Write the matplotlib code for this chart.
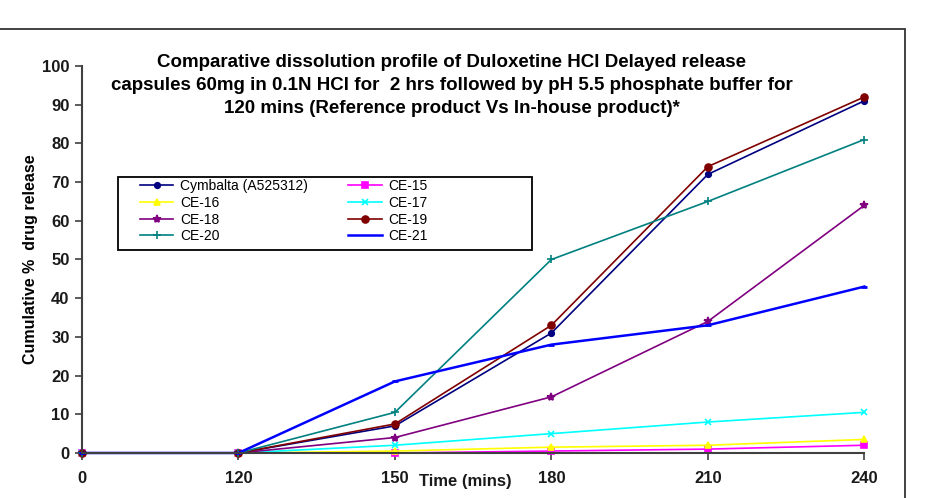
import numpy as np
import matplotlib
matplotlib.use("Agg")
import matplotlib.pyplot as plt
from matplotlib.patches import Rectangle

plt.rcParams['font.family'] = ['Liberation Sans', 'DejaVu Sans']

# time points (categorical axis)
times = ['0', '120', '150', '180', '210', '240']

cymbalta = [0, 0, 7, 31, 72, 91]
ce15 = [0, 0, 0, 0.5, 1, 2]
ce16 = [0, 0, 0.5, 1.5, 2, 3.5]
ce17 = [0, 0, 2, 5, 8, 10.5]
ce18 = [0, 0, 4, 14.5, 34, 64]
ce19 = [0, 0, 7.5, 33, 74, 92]
ce20 = [0, 0, 10.5, 50, 65, 81]
ce21 = [0, 0, 18.5, 28, 33, 43]

series = [
    ('Cymbalta (A525312)', cymbalta, '#000080', 'o', 4, 1.2),
    ('CE-15', ce15, '#FF00FF', 's', 4, 1.2),
    ('CE-16', ce16, '#FFFF00', '^', 5, 1.2),
    ('CE-17', ce17, '#00FFFF', 'x', 5, 1.2),
    ('CE-18', ce18, '#800080', '*', 6, 1.2),
    ('CE-19', ce19, '#800000', 'o', 5, 1.2),
    ('CE-20', ce20, '#008080', '+', 6, 1.2),
    ('CE-21', ce21, '#0000FF', '', 4, 1.8),
]

fig = plt.figure(figsize=(9.3, 4.98), dpi=100)
ax = fig.add_axes([0.0882, 0.0904, 0.8412, 0.7771])

x = np.arange(len(times))
handles = []
for name, vals, col, mk, ms, lw in series:
    h, = ax.plot(x, vals, color=col, marker=mk if mk else None, markersize=ms,
                 linewidth=lw, label=name, clip_on=False, markeredgewidth=1.2)
    handles.append(h)
# small dash markers for CE-21
ax.plot(x, ce21, linestyle='none', marker='_', color='#0000FF',
        markersize=5, markeredgewidth=2, clip_on=False)

ax.set_xlim(0, 5)
ax.set_ylim(0, 100)
ax.set_yticks(np.arange(0, 101, 10))
ax.set_xticks(x)
ax.set_xticklabels(times)
for sp in ['top', 'right']:
    ax.spines[sp].set_visible(False)
for sp in ['left', 'bottom']:
    ax.spines[sp].set_color('#404040')
    ax.spines[sp].set_linewidth(1.5)
ax.tick_params(axis='both', direction='out', length=5, width=1.2,
               color='#404040', labelsize=12, pad=4)
ax.tick_params(axis='x', pad=8)
for lab in ax.get_xticklabels() + ax.get_yticklabels():
    lab.set_fontweight('bold')
    lab.set_color('#1a1a1a')

ax.set_ylabel('Cumulative %  drug release', fontsize=11.5, fontweight='bold',
              labelpad=3)
ax.text(2.45, -0.055, 'Time (mins)', transform=ax.get_xaxis_transform(),
        ha='center', va='top', fontsize=12, fontweight='bold', color='#1a1a1a')

fig.text(0.486, 0.829,
         'Comparative dissolution profile of Duloxetine HCl Delayed release\n'
         'capsules 60mg in 0.1N HCl for  2 hrs followed by pH 5.5 phosphate buffer for\n'
         '120 mins (Reference product Vs In-house product)*',
         ha='center', va='center', fontsize=13.5, fontweight='bold',
         linespacing=1.45)

# legend filled row by row, two columns
order = [0, 2, 4, 6, 1, 3, 5, 7]
leg = ax.legend([handles[i] for i in order], [series[i][0] for i in order],
                ncol=2, loc='upper left', bbox_to_anchor=(140 / 930, 1 - 179 / 498),
                bbox_transform=fig.transFigure, fontsize=10, frameon=False,
                borderpad=0, borderaxespad=0, labelspacing=0.2,
                handlelength=2.4, columnspacing=2.9, handletextpad=0.5)
fig.patches.append(Rectangle((118 / 930, 1 - 250 / 498), 414 / 930, 73 / 498,
                             transform=fig.transFigure, fill=False,
                             edgecolor='black', linewidth=1.3, zorder=5))

fig.patches.append(Rectangle((-0.01, -0.05), 0.983, 0.9918,
                             transform=fig.transFigure, fill=False,
                             edgecolor='#333333', linewidth=1.3))

fig.savefig('out.png', dpi=100)
